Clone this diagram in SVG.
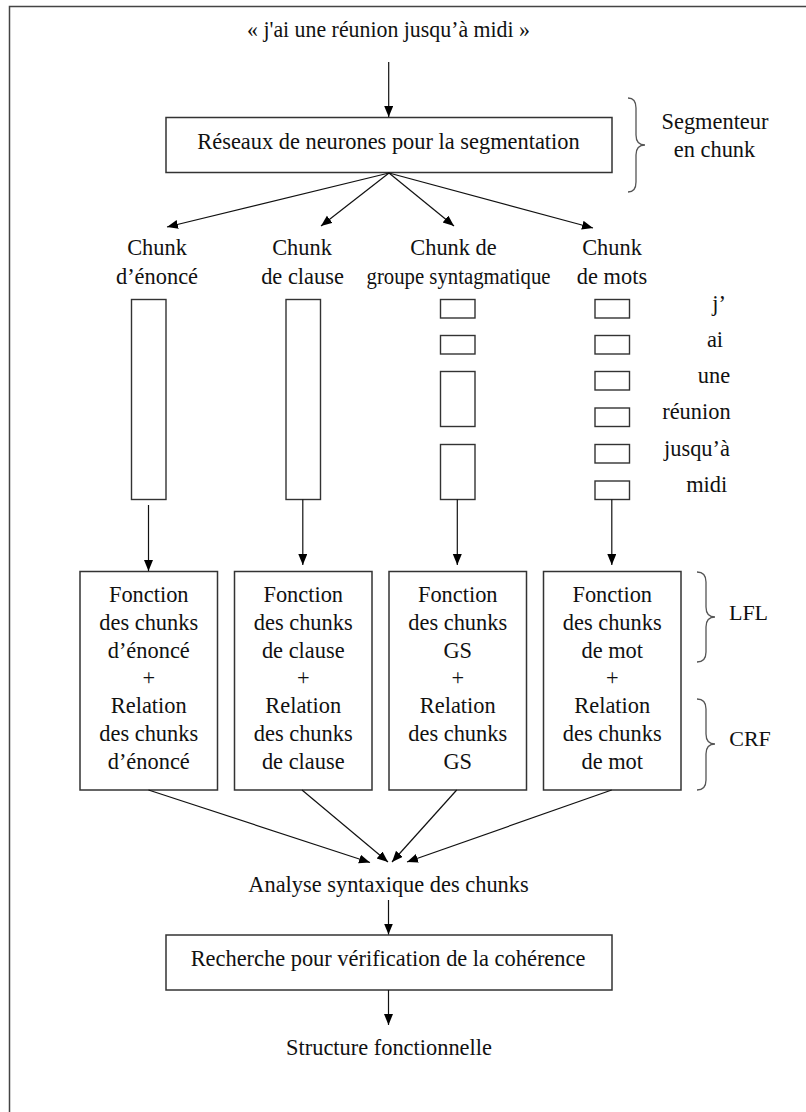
<svg xmlns="http://www.w3.org/2000/svg" width="806" height="1112" viewBox="0 0 806 1112">
<style>
text{font-family:"Liberation Serif","Times New Roman",serif;font-size:22.4px;fill:#111;text-anchor:middle}
.box{fill:#fff;stroke:#333;stroke-width:1.5}
.col{fill:#fff;stroke:#333;stroke-width:1.4}
.arr{fill:none;stroke:#111;stroke-width:1.2;marker-end:url(#ah)}
.brace{fill:none;stroke:#555;stroke-width:1.3}
</style>
<defs>
<marker id="ah" markerUnits="userSpaceOnUse" markerWidth="12" markerHeight="10" refX="11" refY="4.5" orient="auto">
<path d="M0,0 L11,4.5 L0,9 z" fill="#000"/>
</marker>
</defs>
<rect width="806" height="1112" fill="#fff"/>
<path d="M9.5,1112 V6.5 H806" fill="none" stroke="#444" stroke-width="1.5"/>

<g id="input"><text x="388.5" y="37" textLength="283" lengthAdjust="spacingAndGlyphs">« j'ai une réunion jusqu’à midi »</text></g>

<g id="segmentation">
<rect class="box" x="166" y="117.5" width="446" height="55"/>
<text x="388.5" y="148.5">Réseaux de neurones pour la segmentation</text>
</g>
<g id="segmenteur-brace">
<path class="brace" d="M628,98 Q636,98 636,108 V135 Q636,145 645,145 Q636,145 636,155 V182 Q636,192 628,192"/>
<text x="715" y="129">Segmenteur</text>
<text x="714.5" y="156.5">en chunk</text>
</g>

<g id="label-enonce"><text x="157" y="255">Chunk</text><text x="157" y="283.5">d’énoncé</text></g>
<g id="label-clause"><text x="302" y="255">Chunk</text><text x="302.5" y="283.5">de clause</text></g>
<g id="label-gs"><text x="453.5" y="255">Chunk de</text><text x="458.5" y="283.5" textLength="184" lengthAdjust="spacingAndGlyphs">groupe syntagmatique</text></g>
<g id="label-mots"><text x="612" y="255">Chunk</text><text x="612" y="283.5">de mots</text></g>

<g id="col-enonce"><rect class="col" x="131.5" y="299.5" width="34.5" height="200"/></g>
<g id="col-clause"><rect class="col" x="286" y="299.5" width="34.5" height="200"/></g>
<g id="col-gs">
<rect class="col" x="440.5" y="299.5" width="34.5" height="18.5"/>
<rect class="col" x="440.5" y="335.5" width="34.5" height="18.5"/>
<rect class="col" x="440.5" y="371.5" width="34.5" height="55"/>
<rect class="col" x="440.5" y="444.5" width="34.5" height="55"/>
</g>
<g id="col-mots">
<rect class="col" x="595" y="299.5" width="34.5" height="18.5"/>
<rect class="col" x="595" y="335.5" width="34.5" height="18.5"/>
<rect class="col" x="595" y="371.5" width="34.5" height="18.5"/>
<rect class="col" x="595" y="408" width="34.5" height="18.5"/>
<rect class="col" x="595" y="444.5" width="34.5" height="18.5"/>
<rect class="col" x="595" y="481" width="34.5" height="18.5"/>
</g>
<g id="words" style="font-size:22px">
<text x="719" y="310.5">j’</text>
<text x="715" y="346.7">ai</text>
<text x="714" y="382.7">une</text>
<text x="696.4" y="419.3">réunion</text>
<text x="697" y="455.7">jusqu’à</text>
<text x="706.7" y="491.7">midi</text>
</g>

<g id="fn-enonce">
<rect class="box" x="80" y="571.5" width="137.5" height="218.5"/>
<text x="148.75" y="602">Fonction</text><text x="148.75" y="629.8">des chunks</text><text x="148.75" y="657.6">d’énoncé</text><text x="148.75" y="685.4">+</text><text x="148.75" y="713.2">Relation</text><text x="148.75" y="741">des chunks</text><text x="148.75" y="768.8">d’énoncé</text>
</g>
<g id="fn-clause">
<rect class="box" x="234.5" y="571.5" width="137.5" height="218.5"/>
<text x="303.25" y="602">Fonction</text><text x="303.25" y="629.8">des chunks</text><text x="303.25" y="657.6">de clause</text><text x="303.25" y="685.4">+</text><text x="303.25" y="713.2">Relation</text><text x="303.25" y="741">des chunks</text><text x="303.25" y="768.8">de clause</text>
</g>
<g id="fn-gs">
<rect class="box" x="389" y="571.5" width="137.5" height="218.5"/>
<text x="457.75" y="602">Fonction</text><text x="457.75" y="629.8">des chunks</text><text x="457.75" y="657.6">GS</text><text x="457.75" y="685.4">+</text><text x="457.75" y="713.2">Relation</text><text x="457.75" y="741">des chunks</text><text x="457.75" y="768.8">GS</text>
</g>
<g id="fn-mot">
<rect class="box" x="543.5" y="571.5" width="137.5" height="218.5"/>
<text x="612.25" y="602">Fonction</text><text x="612.25" y="629.8">des chunks</text><text x="612.25" y="657.6">de mot</text><text x="612.25" y="685.4">+</text><text x="612.25" y="713.2">Relation</text><text x="612.25" y="741">des chunks</text><text x="612.25" y="768.8">de mot</text>
</g>

<g id="lfl-brace">
<path class="brace" d="M697,572 Q706,572 706,582 V607 Q706,617 715,617 Q706,617 706,627 V652 Q706,662 697,662"/>
<text x="748.5" y="620" style="font-size:22px">LFL</text>
</g>
<g id="crf-brace">
<path class="brace" d="M697,699 Q706,699 706,709 V734 Q706,744 715,744 Q706,744 706,754 V780 Q706,790 697,790"/>
<text x="750" y="746" style="font-size:22px">CRF</text>
</g>

<g id="analyse"><text x="388.5" y="891.7">Analyse syntaxique des chunks</text></g>
<g id="recherche">
<rect class="box" x="166" y="935" width="446" height="55"/>
<text x="388" y="966">Recherche pour vérification de la cohérence</text>
</g>
<g id="structure"><text x="389" y="1055">Structure fonctionnelle</text></g>

<g id="connectors">
<line class="arr" x1="388.7" y1="62" x2="388.7" y2="117"/>
<line class="arr" x1="389" y1="173" x2="167" y2="227"/>
<line class="arr" x1="389" y1="173" x2="321" y2="226"/>
<line class="arr" x1="389" y1="173" x2="454" y2="226"/>
<line class="arr" x1="389" y1="173" x2="593" y2="228"/>
<line class="arr" x1="148.5" y1="505" x2="148.5" y2="571"/>
<line class="arr" x1="302.8" y1="499.5" x2="302.8" y2="565"/>
<line class="arr" x1="457.3" y1="499.5" x2="457.3" y2="565"/>
<line class="arr" x1="611.8" y1="499.5" x2="611.8" y2="565"/>
<line class="arr" x1="148.5" y1="790" x2="370" y2="862.5"/>
<line class="arr" x1="302" y1="790" x2="388" y2="862"/>
<line class="arr" x1="456.7" y1="790" x2="392" y2="862"/>
<line class="arr" x1="611.7" y1="790" x2="407" y2="862"/>
<line class="arr" x1="388.5" y1="900" x2="388.5" y2="934.5"/>
<line class="arr" x1="388.5" y1="990" x2="388.5" y2="1025"/>
</g>
</svg>
